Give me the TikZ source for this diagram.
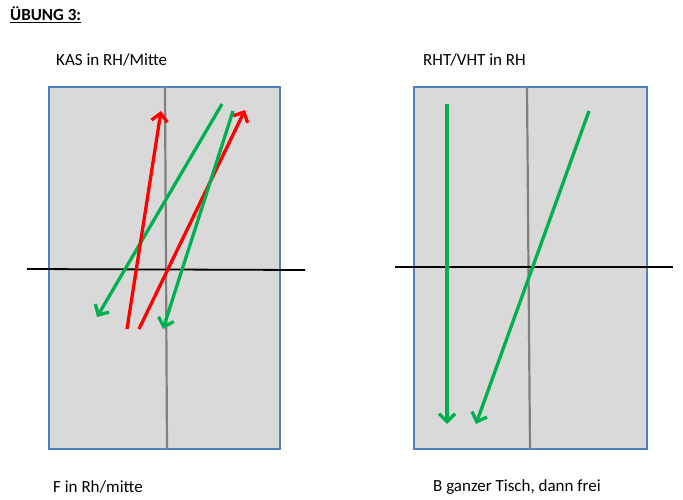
\documentclass[tikz,border=0pt]{standalone}
\usepackage{fontspec}
\setmainfont{Carlito}
\usetikzlibrary{arrows.meta}
\definecolor{tablefill}{HTML}{D9D9D9}
\definecolor{tableblue}{HTML}{4F81BD}
\definecolor{arrred}{HTML}{FF0000}
\definecolor{arrgreen}{HTML}{00B050}
\definecolor{midgray}{HTML}{808080}
\tikzset{
  table/.style={fill=tablefill,draw=tableblue,line width=1.6pt},
  midline/.style={draw=midgray,line width=2.2pt},
  netline/.style={draw=black,line width=1.8pt},
  redarr/.style={draw=arrred,line width=3.3pt,-{Straight Barb[length=8pt,width=16pt,line width=3.3pt]}},
  greenarr/.style={draw=arrgreen,line width=3.3pt,-{Straight Barb[length=8pt,width=16pt,line width=3.3pt]}},
  lbl/.style={inner sep=0pt,anchor=west,font=\fontsize{17}{20}\selectfont}
}
\begin{document}
\begin{tikzpicture}[x=1pt,y=-1pt]
\useasboundingbox (0,0) rectangle (683,500);
% title
\node[lbl,anchor=base west,font=\fontsize{17}{20}\selectfont\bfseries] (title) at (10,21) {\underline{ÜBUNG 3:}};
\node[lbl] (kas) at (56,60) {KAS in RH/Mitte};
\node[lbl] (rht) at (423,60) {RHT/VHT in RH};
\node[lbl] (fin) at (53,487) {F in Rh/mitte};
\node[lbl] (bgt) at (433,487) {B ganzer Tisch, dann frei};
% left table
\draw[table] (49,87) rectangle (280,449);
\coordinate (lmt) at (165,87); \coordinate (lmb) at (167,449);
\draw[midline] (lmt) -- (lmb);
\coordinate (lnl) at (27,269); \coordinate (lnr) at (305,270);
\draw[netline] (lnl) -- (lnr);
\coordinate (r1s) at (127,329); \coordinate (r1e) at (161,111);
\coordinate (r2s) at (139,329); \coordinate (r2e) at (245,110);
\coordinate (g1s) at (222,104); \coordinate (g1e) at (97,317);
\coordinate (g2s) at (233,111); \coordinate (g2e) at (163,329);
\draw[greenarr] (g1s) -- (g1e);
\draw[redarr] (r1s) -- (r1e);
\draw[redarr] (r2s) -- (r2e);
\draw[greenarr] (g2s) -- (g2e);
% right table
\draw[table] (414,87) rectangle (647,449);
\coordinate (rmt) at (527,87); \coordinate (rmb) at (530,449);
\draw[midline] (rmt) -- (rmb);
\coordinate (rnl) at (395,267); \coordinate (rnr) at (673,267);
\draw[netline] (rnl) -- (rnr);
\coordinate (g3s) at (447,104); \coordinate (g3e) at (447,424);
\coordinate (g4s) at (589,111); \coordinate (g4e) at (476,424);
\draw[greenarr] (g3s) -- (g3e);
\draw[greenarr] (g4s) -- (g4e);
\end{tikzpicture}
\end{document}
